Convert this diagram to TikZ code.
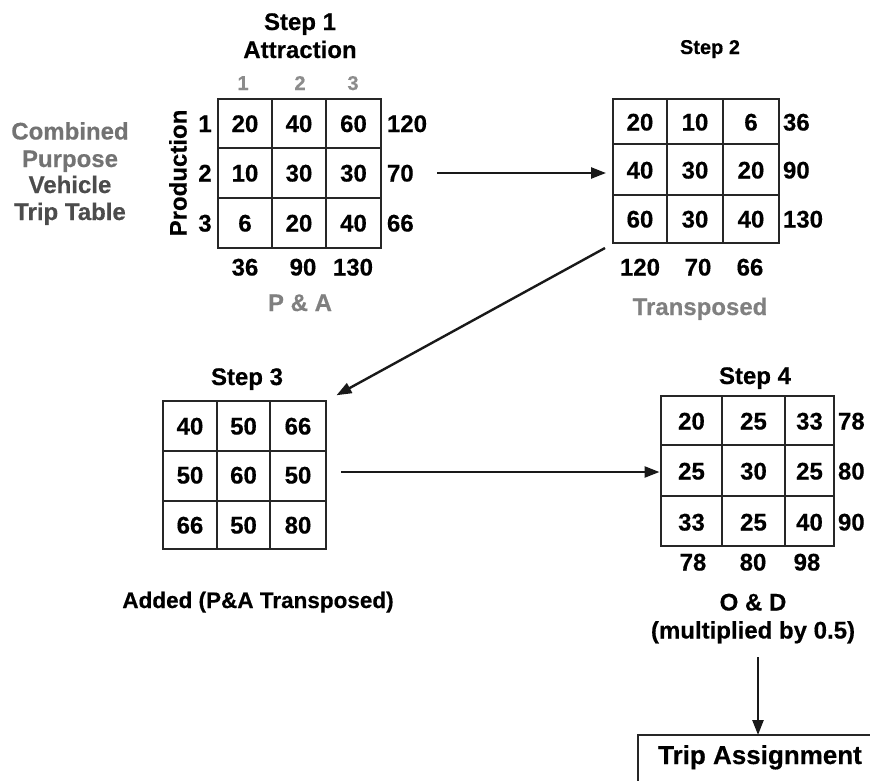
\documentclass[tikz,border=0pt]{standalone}
\usepackage{fontspec}
\setmainfont{Liberation Sans}[BoldFeatures={FakeBold=0.4}]
\usetikzlibrary{arrows.meta}
\begin{document}
\begin{tikzpicture}[x=1pt,y=-1pt,
  every node/.style={inner sep=0pt, outer sep=0pt, font=\bfseries\fontsize{24}{26}\selectfont},
  lbl/.style={anchor=base},
  sumlbl/.style={anchor=base west},
  faint/.style={anchor=base, text=black!50},
  small/.style={font=\bfseries\fontsize{20}{22}\selectfont},
  grid/.style={line width=2.2pt, draw=black!85},
  mbox/.style={draw=black!85, line width=2.4pt, anchor=north west},
  arr/.style={line width=2.4pt, draw=black!90, -{Triangle[length=15pt,width=11pt]}},
]
\useasboundingbox (0,0) rectangle (870,780);
\clip (0,0) rectangle (870,780);

% ---------- left title ----------
\node[faint, text=black!55] (t1) at (70,139.5) {Combined};
\node[faint, text=black!55] (t2) at (70,167) {Purpose};
\node[faint, text=black!70] (t3) at (70,193) {Vehicle};
\node[faint, text=black!70] (t4) at (70,220) {Trip Table};

% ---------- Step 1 ----------
\node[lbl] (h1) at (300,30) {Step 1};
\node[lbl] (h1b) at (300,58) {Attraction};
\node[faint, small, text=black!45] (c1) at (243,90) {1};
\node[faint, small, text=black!45] (c2) at (300,90) {2};
\node[faint, small, text=black!45] (c3) at (353,90) {3};
\node[rotate=90, anchor=center] (prod) at (178,173) {Production};
\node[mbox, minimum width=163pt, minimum height=149pt] (s1) at (218,99) {};
\draw[grid] (272,99) -- (272,248) (326,99) -- (326,248);
\draw[grid] (218,148) -- (381,148) (218,198) -- (381,198);
\foreach \y/\r/\a/\b/\c/\s in {132/1/20/40/60/120, 181.5/2/10/30/30/70, 231.5/3/6/20/40/66} {
  \node[lbl] (s1r\r) at (205,\y) {\r};
  \node[lbl] (s1x\r a) at (245,\y) {\a};
  \node[lbl] (s1x\r b) at (299,\y) {\b};
  \node[lbl] (s1x\r c) at (353.5,\y) {\c};
  \node[sumlbl] (s1s\r) at (387,\y) {\s};
}
\node[lbl] (s1t1) at (245,275.5) {36};
\node[lbl] (s1t2) at (303,275.5) {90};
\node[lbl] (s1t3) at (353,275.5) {130};
\node[faint] (pa) at (300,311) {P \& A};

% ---------- Step 2 ----------
\node[lbl, small] (h2) at (710,54) {Step 2};
\node[mbox, minimum width=166pt, minimum height=144pt] (s2) at (613,99) {};
\draw[grid] (667,99) -- (667,243) (723,99) -- (723,243);
\draw[grid] (613,144) -- (779,144) (613,195) -- (779,195);
\foreach \y/\r/\a/\b/\c/\s in {130.5/1/20/10/6/36, 178.5/2/40/30/20/90, 227.5/3/60/30/40/130} {
  \node[lbl] (s2x\r a) at (640,\y) {\a};
  \node[lbl] (s2x\r b) at (695,\y) {\b};
  \node[lbl] (s2x\r c) at (751,\y) {\c};
  \node[sumlbl] (s2s\r) at (783,\y) {\s};
}
\node[lbl] (s2t1) at (640,275.5) {120};
\node[lbl] (s2t2) at (698,275.5) {70};
\node[lbl] (s2t3) at (750,275.5) {66};
\node[faint] (tr) at (700,315) {Transposed};

% ---------- Step 3 ----------
\node[lbl] (h3) at (247,385) {Step 3};
\node[mbox, minimum width=163pt, minimum height=148pt] (s3) at (163,401) {};
\draw[grid] (217,401) -- (217,549) (270,401) -- (270,549);
\draw[grid] (163,451) -- (326,451) (163,501) -- (326,501);
\foreach \y/\r/\a/\b/\c in {434.5/1/40/50/66, 483.5/2/50/60/50, 533.5/3/66/50/80} {
  \node[lbl] (s3x\r a) at (190,\y) {\a};
  \node[lbl] (s3x\r b) at (243.5,\y) {\b};
  \node[lbl] (s3x\r c) at (298,\y) {\c};
}
\node[lbl, font=\bfseries\fontsize{22.5}{24}\selectfont] (add) at (258,608) {Added (P\&A Transposed)};

% ---------- Step 4 ----------
\node[lbl] (h4) at (755,384) {Step 4};
\node[mbox, minimum width=173pt, minimum height=150pt] (s4) at (661,396) {};
\draw[grid] (722,396) -- (722,546) (785,396) -- (785,546);
\draw[grid] (661,445) -- (834,445) (661,496) -- (834,496);
\foreach \y/\r/\a/\b/\c/\s in {429.5/1/20/25/33/78, 479.5/2/25/30/25/80, 530.5/3/33/25/40/90} {
  \node[lbl] (s4x\r a) at (691.5,\y) {\a};
  \node[lbl] (s4x\r b) at (753.5,\y) {\b};
  \node[lbl] (s4x\r c) at (809.5,\y) {\c};
  \node[sumlbl] (s4s\r) at (838,\y) {\s};
}
\node[lbl] (s4t1) at (693,570.5) {78};
\node[lbl] (s4t2) at (753,570.5) {80};
\node[lbl] (s4t3) at (807,570.5) {98};
\node[lbl] (od) at (753,610.5) {O \& D};
\node[lbl] (mul) at (753,638.5) {(multiplied by 0.5)};

% ---------- Trip Assignment ----------
\node[mbox, line width=2pt, minimum width=260pt, minimum height=80pt] (ta) at (638,735) {};
\node[lbl, font=\bfseries\fontsize{26}{28}\selectfont] (tat) at (760,764) {Trip Assignment};

% ---------- arrows ----------
\coordinate (a1s) at (437,173);
\coordinate (a2s) at (605,248);
\coordinate (a3s) at (341,472);
\coordinate (a4s) at (758,657);
\draw[arr, shorten >=7pt] (a1s) -- (a1s -| s2.west);
\draw[arr, shorten >=12pt] (a2s) -- (s3.north east);
\draw[arr, shorten >=1.5pt] (a3s) -- (a3s -| s4.west);
\draw[arr] (a4s) -- (a4s |- ta.north);
\end{tikzpicture}
\end{document}
